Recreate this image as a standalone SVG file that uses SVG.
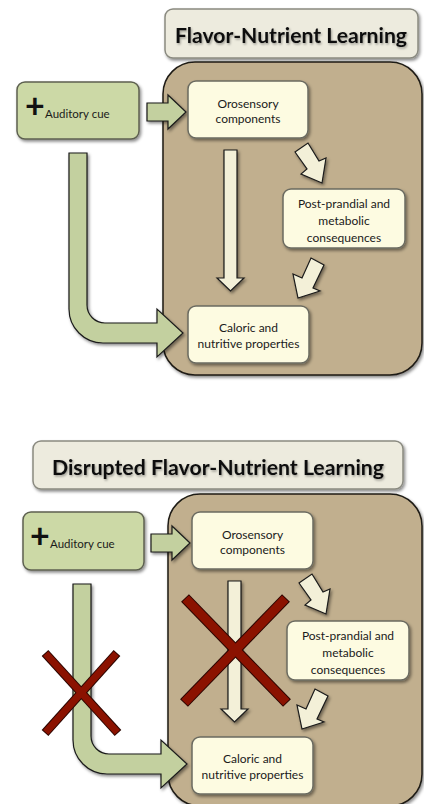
<svg xmlns="http://www.w3.org/2000/svg" width="424" height="804" viewBox="0 0 424 804">
<defs>
<filter id="sh" x="-20%" y="-20%" width="150%" height="160%">
<feDropShadow dx="1.5" dy="2" stdDeviation="1.5" flood-color="#000" flood-opacity="0.45"/>
</filter>
<filter id="tsh" x="-10%" y="-30%" width="120%" height="170%">
<feDropShadow dx="1" dy="1.5" stdDeviation="1" flood-color="#000" flood-opacity="0.35"/>
</filter>
<style>
.title{fill:#EDEBDE;stroke:#8a8a80;stroke-width:1.5}
.ttext{font-family:Lato,"Open Sans","Liberation Sans",sans-serif;font-weight:bold;font-size:21px;fill:#111;text-anchor:middle}
.panel{fill:#C1AF8E;stroke:#1e1a14;stroke-width:1.5}
.cue{fill:#CCD9A6;stroke:#5d6050;stroke-width:1.5}
.node{fill:#FDFBE1;stroke:#6b6b60;stroke-width:1.5}
.lbl{font-family:Lato,"Open Sans","Liberation Sans",sans-serif;font-size:12px;fill:#1a1a1a;text-anchor:middle}
.cuetxt{font-family:Lato,"Open Sans","Liberation Sans",sans-serif;font-size:11.5px;fill:#1a1a1a}
.plus{font-family:Lato,"Open Sans","Liberation Sans",sans-serif;font-size:34px;font-weight:bold;fill:#111}
.garrow{fill:#C3D09F;stroke:#1a1a1a;stroke-width:1.2;stroke-linejoin:miter}
.carrow{fill:#F3F0D8;stroke:#1a1a1a;stroke-width:1.2;stroke-linejoin:miter}
.xo{stroke:#2a0500;stroke-width:11;stroke-linecap:butt;fill:none}
.xi{stroke:#8B1200;stroke-width:9;stroke-linecap:butt;fill:none}
.xo2{stroke:#2a0500;stroke-width:9;stroke-linecap:butt;fill:none}
.xi2{stroke:#8B1200;stroke-width:7;stroke-linecap:butt;fill:none}
</style>
</defs>

<!-- TOP PANEL -->
<g id="title-top" filter="url(#sh)">
<rect class="title" x="165" y="9" width="253" height="49" rx="8"/>
</g>
<text class="ttext" x="291" y="43" textLength="232" lengthAdjust="spacingAndGlyphs" filter="url(#tsh)">Flavor-Nutrient Learning</text>

<g id="panel-top" filter="url(#sh)">
<rect class="panel" x="163" y="62" width="259" height="313" rx="32"/>
</g>

<g id="connectors-top">
<path class="garrow" filter="url(#sh)" d="M69 153 L87 153 L87 305 A18 18 0 0 0 105 323 L157 323 L157 309 L183 333 L157 357 L157 343 L103 343 A34 34 0 0 1 69 309 Z"/>
<path class="garrow" filter="url(#sh)" d="M147 103 L168 103 L168 95 L186 112 L168 129 L168 121 L147 121 Z"/>
<path class="carrow" filter="url(#sh)" d="M224 150 L237 150 L237 278 L244 278 L230.5 291 L217 278 L224 278 Z"/>
<path class="carrow" filter="url(#sh)" d="M295 152 L308 143 L319 161 L326 158 L322 183 L301 174 L307 169 Z"/>
<path class="carrow" filter="url(#sh)" d="M311 258 L324 265 L313 288 L320 291 L298 298 L293 274 L302 278 Z"/>
</g>

<g id="cue-top">
<rect class="cue" x="17" y="82" width="122" height="57" rx="8" filter="url(#sh)"/>
<text class="plus" x="25" y="118">+</text>
<text class="cuetxt" x="45" y="118">Auditory cue</text>
</g>

<g id="oro-top">
<rect class="node" x="188" y="81" width="120" height="57" rx="8" filter="url(#sh)"/>
<text class="lbl" x="248" y="108">Orosensory</text>
<text class="lbl" x="248" y="123">components</text>
</g>

<g id="post-top">
<rect class="node" x="283" y="189" width="122" height="59" rx="8" filter="url(#sh)"/>
<text class="lbl" x="344" y="208">Post-prandial and</text>
<text class="lbl" x="344" y="225">metabolic</text>
<text class="lbl" x="344" y="242">consequences</text>
</g>

<g id="cal-top">
<rect class="node" x="188" y="306" width="121" height="57" rx="8" filter="url(#sh)"/>
<text class="lbl" x="248.5" y="332">Caloric and</text>
<text class="lbl" x="248.5" y="348">nutritive properties</text>
</g>

<!-- BOTTOM PANEL -->
<g id="title-bottom" filter="url(#sh)">
<rect class="title" x="33" y="441" width="370" height="48" rx="8"/>
</g>
<text class="ttext" x="218" y="475" textLength="332" lengthAdjust="spacingAndGlyphs" filter="url(#tsh)">Disrupted Flavor-Nutrient Learning</text>

<g id="panel-bottom" filter="url(#sh)">
<rect class="panel" x="168" y="494" width="254" height="312" rx="32"/>
</g>

<g id="connectors-bottom" transform="translate(4,431)">
<path class="garrow" filter="url(#sh)" d="M69 153 L87 153 L87 305 A18 18 0 0 0 105 323 L157 323 L157 309 L183 333 L157 357 L157 343 L103 343 A34 34 0 0 1 69 309 Z"/>
<path class="garrow" filter="url(#sh)" d="M147 103 L168 103 L168 95 L186 112 L168 129 L168 121 L147 121 Z"/>
<path class="carrow" filter="url(#sh)" d="M224 150 L237 150 L237 278 L244 278 L230.5 291 L217 278 L224 278 Z"/>
<path class="carrow" filter="url(#sh)" d="M295 152 L308 143 L319 161 L326 158 L322 183 L301 174 L307 169 Z"/>
<path class="carrow" filter="url(#sh)" d="M311 258 L324 265 L313 288 L320 291 L298 298 L293 274 L302 278 Z"/>
</g>

<g id="cue-bottom">
<rect class="cue" x="23" y="512" width="121" height="58" rx="8" filter="url(#sh)"/>
<text class="plus" x="30" y="548">+</text>
<text class="cuetxt" x="50" y="548">Auditory cue</text>
</g>

<g id="oro-bottom">
<rect class="node" x="192" y="512" width="121" height="57" rx="8" filter="url(#sh)"/>
<text class="lbl" x="252.5" y="539">Orosensory</text>
<text class="lbl" x="252.5" y="554">components</text>
</g>

<g id="post-bottom">
<rect class="node" x="287" y="621" width="122" height="59" rx="8" filter="url(#sh)"/>
<text class="lbl" x="348" y="640">Post-prandial and</text>
<text class="lbl" x="348" y="657">metabolic</text>
<text class="lbl" x="348" y="674">consequences</text>
</g>

<g id="cal-bottom">
<rect class="node" x="192" y="737" width="121" height="57" rx="8" filter="url(#sh)"/>
<text class="lbl" x="252.5" y="763">Caloric and</text>
<text class="lbl" x="252.5" y="779">nutritive properties</text>
</g>

<g id="crosses">
<line class="xo" x1="185" y1="598" x2="287" y2="703"/>
<line class="xo" x1="286" y1="598" x2="184" y2="703"/>
<line class="xi" x1="185.7" y1="598.7" x2="286.3" y2="702.3"/>
<line class="xi" x1="285.3" y1="598.7" x2="184.7" y2="702.3"/>
<line class="xo2" x1="45" y1="653" x2="118" y2="733"/>
<line class="xo2" x1="117" y1="653" x2="45" y2="733"/>
<line class="xi2" x1="45.7" y1="653.7" x2="117.3" y2="732.3"/>
<line class="xi2" x1="116.3" y1="653.7" x2="45.7" y2="732.3"/>
</g>
</svg>
